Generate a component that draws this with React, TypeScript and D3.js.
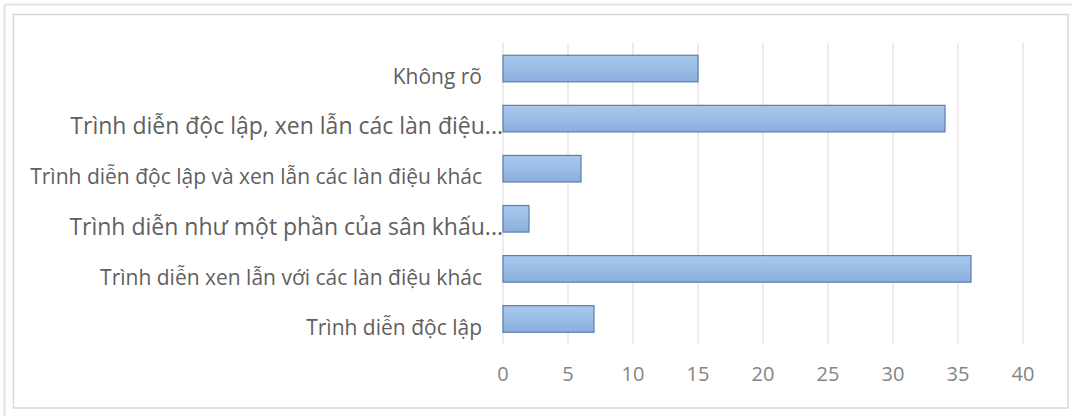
import React from "react";
import * as d3 from "d3";

const categories: string[] = [
  "Kh\u00f4ng r\u00f5",
  "Trình diễn độc lập, xen lẫn các làn điệu...",
  "Trình diễn độc lập và xen lẫn các làn điệu khác",
  "Trình diễn như một phần của sân khấu...",
  "Trình diễn xen lẫn với các làn điệu khác",
  "Trình diễn độc lập",
].map((s) => s.normalize("NFC"));
const values: number[] = [15, 34, 6, 2, 36, 7];
const tickValues: number[] = [0, 5, 10, 15, 20, 25, 30, 35, 40];

const W = 1072;
const H = 416;
const FONT = "'Open Sans', 'Noto Sans', sans-serif";

export default function App() {
  const x = d3.scaleLinear().domain([0, 40]).range([503, 1023]);
  const y = d3
    .scaleBand<string>()
    .domain(categories)
    .range([43.5, 344])
    .paddingInner(0.47)
    .paddingOuter(0.235);
  const bw = y.bandwidth();

  return (
    <svg
      width={W}
      height={H}
      style={{ position: "fixed", left: 0, top: 0, background: "#fff" }}
    >
      <defs>
        <linearGradient id="barGrad" x1="0" y1="0" x2="0" y2="1">
          <stop offset="0%" stopColor="#a9c7ec" />
          <stop offset="50%" stopColor="#9bbde6" />
          <stop offset="100%" stopColor="#89afde" />
        </linearGradient>
      </defs>
      <rect x={0} y={0} width={W} height={H} fill="#fff" />
      {/* outer frame */}
      <line x1={4.5} y1={4.5} x2={W} y2={4.5} stroke="#e3e3e3" strokeWidth={2} />
      <line x1={4.5} y1={4.5} x2={4.5} y2={H} stroke="#e3e3e3" strokeWidth={2} />
      {/* inner chart area border */}
      <rect
        x={13.5}
        y={14.5}
        width={1054.5}
        height={393.5}
        fill="#fff"
        stroke="#d9d9d9"
        strokeWidth={1.5}
      />
      {/* gridlines */}
      {tickValues.map((t) => (
        <line
          key={"g" + t}
          x1={x(t)}
          x2={x(t)}
          y1={43}
          y2={344}
          stroke="#d9d9d9"
          strokeWidth={1}
        />
      ))}
      {/* bars */}
      {categories.map((c, i) => (
        <rect
          key={"b" + c}
          x={x(0)}
          y={y(c)!}
          width={x(values[i]) - x(0)}
          height={bw}
          fill="url(#barGrad)"
          stroke="#5a7ea8"
          strokeWidth={1.2}
        />
      ))}
      {/* category labels */}
      {categories.map((c) => {
        const trunc = c.endsWith("...");
        return (
          <text
            key={"l" + c}
            x={trunc ? x(0) : x(0) - 21}
            y={y(c)! + bw + 2.5}
            textAnchor="end"
            fontFamily={FONT}
            fontSize={trunc ? 23 : 21}
            fill="#5f5f5f"
          >
            {c}
          </text>
        );
      })}
      {/* tick labels */}
      {tickValues.map((t) => (
        <text
          key={"t" + t}
          x={x(t)}
          y={381}
          textAnchor="middle"
          fontFamily={FONT}
          fontSize={20}
          fill="#858585"
        >
          {t}
        </text>
      ))}
    </svg>
  );
}
